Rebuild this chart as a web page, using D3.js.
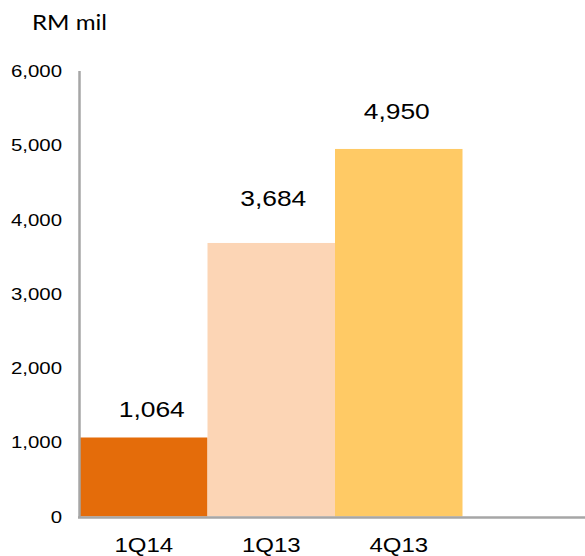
<!DOCTYPE html>
<html>
<head>
<meta charset="utf-8">
<script src="https://cdn.jsdelivr.net/npm/d3@7"></script>
<style>
  body { margin: 0; background: #fff; }
  svg { display: block; }
  text { font-family: "Liberation Sans", Arial, sans-serif; fill: #000; }
</style>
</head>
<body>
<div id="main"></div>
<script>
"use strict";

// data
const quarters = ["1Q14", "1Q13", "4Q13"];
const amounts = [1064, 3684, 4950];
const barColors = ["#E46C0A", "#FCD5B5", "#FFCA65"];
const yTickValues = [0, 1000, 2000, 3000, 4000, 5000, 6000];
const unitLabel = "RM mil";

function main() {
    const width = 585, height = 556;
    const stretch = 1.2; // text in the original is stretched sideways a bit

    const svg = d3.select("#main").append("svg")
        .attr("width", width)
        .attr("height", height);

    const x = d3.scaleBand()
        .domain(quarters)
        .range([80, 462.5])
        .paddingInner(0)
        .paddingOuter(0);

    const y = d3.scaleLinear()
        .domain([0, 6000])
        .range([516.5, 71]);

    // bars
    svg.append("g")
        .selectAll("rect")
        .data(quarters)
        .join("rect")
        .attr("x", d => x(d))
        .attr("y", (d, i) => y(amounts[i]))
        .attr("width", x.bandwidth())
        .attr("height", (d, i) => y(0) - y(amounts[i]))
        .attr("fill", (d, i) => barColors[i]);

    // axis lines (no tick marks in the original)
    svg.append("line")
        .attr("x1", 79.5).attr("x2", 79.5)
        .attr("y1", y(6000)).attr("y2", y(0) + 1)
        .attr("stroke", "#A6A6A6").attr("stroke-width", 2.5);
    svg.append("line")
        .attr("x1", 78).attr("x2", width)
        .attr("y1", y(0) + 1).attr("y2", y(0) + 1)
        .attr("stroke", "#A6A6A6").attr("stroke-width", 2.5);

    // y tick labels
    const fmt = d3.format(",");
    svg.append("g")
        .selectAll("g")
        .data(yTickValues)
        .join("g")
        .attr("transform", d => `translate(62,${y(d)}) scale(${stretch},1)`)
        .append("text")
        .attr("text-anchor", "end")
        .attr("dy", "0.36em")
        .style("font-size", "17px")
        .text(d => fmt(d));

    // x labels
    svg.append("g")
        .selectAll("g")
        .data(quarters)
        .join("g")
        .attr("transform", d => `translate(${x(d) + x.bandwidth() / 2},552) scale(${stretch},1)`)
        .append("text")
        .attr("text-anchor", "middle")
        .style("font-size", "20px")
        .text(d => d);

    // value labels, lifted by hand like the original
    const labelNudge = [[8, 20], [2, 37], [-2, 30]];
    svg.append("g")
        .selectAll("g")
        .data(quarters)
        .join("g")
        .attr("transform", (d, i) =>
            `translate(${x(d) + x.bandwidth() / 2 + labelNudge[i][0]},${y(amounts[i]) - labelNudge[i][1]}) scale(${stretch},1)`)
        .append("text")
        .attr("text-anchor", "middle")
        .style("font-size", "22px")
        .text((d, i) => fmt(amounts[i]));

    // unit label
    svg.append("g")
        .attr("transform", `translate(32,30) scale(1.15,1)`)
        .append("text")
        .style("font-family", "Lato, 'Liberation Sans', sans-serif")
        .style("font-size", "21px")
        .text(unitLabel);
}

main();
</script>
</body>
</html>
